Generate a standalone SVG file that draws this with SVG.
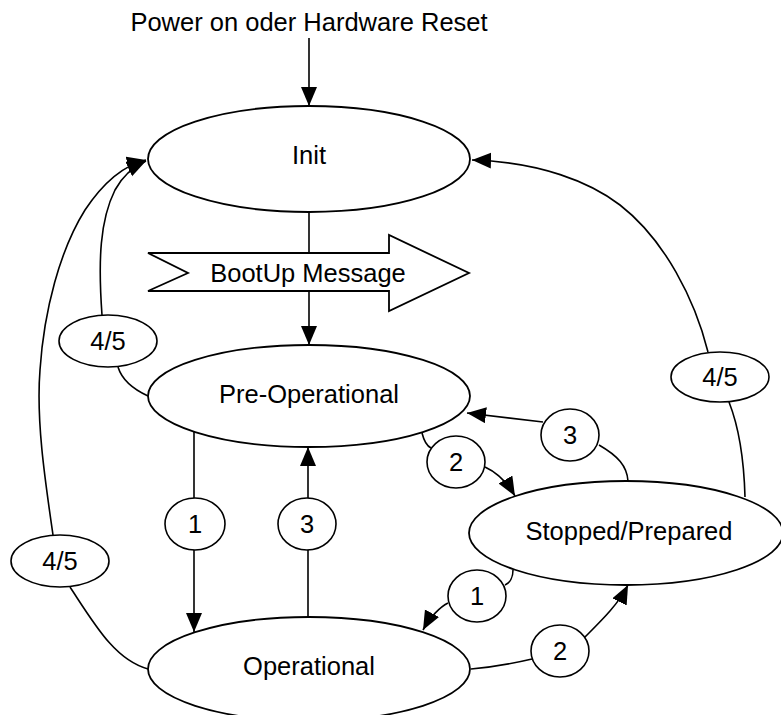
<svg xmlns="http://www.w3.org/2000/svg" width="781" height="715" viewBox="0 0 781 715">
<defs>
<marker id="ah" markerUnits="userSpaceOnUse" markerWidth="22" markerHeight="18" refX="19" refY="8" orient="auto">
<path d="M0,0 L19,8 L0,16 z" fill="#000"/>
</marker>
<style>
.st{fill:#fff;stroke:#000;stroke-width:1.8}
.lb{fill:#fff;stroke:#000;stroke-width:1.6}
.c{fill:none;stroke:#000;stroke-width:1.6}
.a{fill:none;stroke:#000;stroke-width:1.6;marker-end:url(#ah)}
text{font-family:"Liberation Sans",Arial,sans-serif;font-size:25.5px;fill:#000;text-anchor:middle}
</style>
</defs>
<rect width="781" height="715" fill="#fff"/>
<g id="connectors">
<line class="a" x1="309" y1="38" x2="309" y2="106"/>
<line class="a" x1="309" y1="211" x2="309" y2="345"/>
<line class="c" x1="194" y1="432" x2="194" y2="498"/>
<line class="a" x1="194" y1="550" x2="194" y2="632"/>
<line class="c" x1="308" y1="617" x2="308" y2="550"/>
<line class="a" x1="308" y1="498" x2="308" y2="447"/>
<path class="c" d="M628,481 C627,466 618,456 599,445"/>
<line class="a" x1="543" y1="422" x2="467" y2="413"/>
<path class="c" d="M422,433 C424,441 427,446 431,448"/>
<path class="a" d="M485,467 C498,473 508,484 515,496"/>
<path class="c" d="M513,570 C513,577 510,583 505,585"/>
<path class="a" d="M448,603 C440,607 430,617 423,630"/>
<path class="c" d="M471,669 C495,667 515,663 532,659"/>
<path class="a" d="M584,638 C600,622 618,605 628,585"/>
<path class="c" d="M148,396 C135,390 122,380 118,367"/>
<path class="a" d="M102,315 C98,260 100,220 115,190 C123,175 133,167 146,161"/>
<path class="c" d="M148,669 C115,660 95,625 70,587"/>
<path class="a" d="M53,535 C45,480 36,420 40,370 C44,310 60,250 85,210 C105,180 125,165 146,160"/>
<path class="c" d="M745,497 C744,460 740,430 729,402"/>
<path class="a" d="M708,352 C695,300 665,240 620,205 C590,182 540,162 472,160"/>
</g>
<text x="309" y="31">Power on oder Hardware Reset</text>
<g id="init"><ellipse class="st" cx="309" cy="159" rx="161" ry="53"/><text x="309" y="164">Init</text></g>
<g id="bootup"><polygon class="st" points="148,253 389,253 389,235 469,273 389,311 389,291 148,291 188,273"/><text x="308" y="282">BootUp Message</text></g>
<g id="preop"><ellipse class="st" cx="309" cy="396" rx="161" ry="51"/><text x="309" y="403">Pre-Operational</text></g>
<g id="operational"><ellipse class="st" cx="309" cy="669" rx="161" ry="52"/><text x="309" y="675">Operational</text></g>
<g id="stopped"><ellipse class="st" cx="626" cy="533" rx="157" ry="52"/><text x="629" y="540">Stopped/Prepared</text></g>
<g id="l45a"><ellipse class="lb" cx="108" cy="341" rx="49" ry="26"/><text x="108" y="350">4/5</text></g>
<g id="l45b"><ellipse class="lb" cx="60" cy="561" rx="49" ry="26"/><text x="60" y="570">4/5</text></g>
<g id="l45c"><ellipse class="lb" cx="720" cy="377" rx="49" ry="25"/><text x="720" y="386">4/5</text></g>
<g id="l1a"><ellipse class="lb" cx="195" cy="524" rx="30" ry="26"/><text x="195" y="533">1</text></g>
<g id="l3a"><ellipse class="lb" cx="307" cy="524" rx="29" ry="26"/><text x="307" y="533">3</text></g>
<g id="l3b"><ellipse class="lb" cx="570" cy="435" rx="29" ry="26"/><text x="570" y="444">3</text></g>
<g id="l2a"><ellipse class="lb" cx="456" cy="462" rx="29" ry="26"/><text x="456" y="471">2</text></g>
<g id="l1b"><ellipse class="lb" cx="477" cy="596" rx="29" ry="26"/><text x="477" y="605">1</text></g>
<g id="l2b"><ellipse class="lb" cx="560" cy="651" rx="29" ry="26"/><text x="560" y="660">2</text></g>
</svg>
